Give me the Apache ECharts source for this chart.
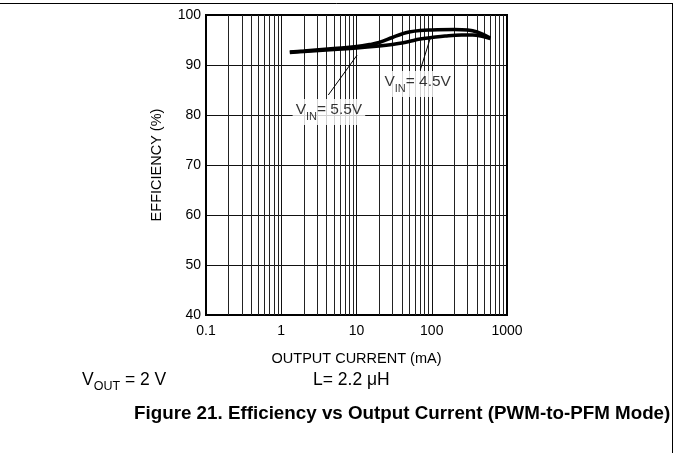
<!DOCTYPE html>
<html>
<head>
<meta charset="utf-8">
<script src="https://cdn.jsdelivr.net/npm/echarts@6/dist/echarts.min.js"></script>
<style>
html,body{margin:0;padding:0;background:#fff;}
#c{width:677px;height:453px;}
</style>
</head>
<body>
<div id="c"></div>
<script>
// ---- data ----
const current55 = [1.3, 2, 5, 10, 15, 20, 30, 40, 50, 70, 100, 200, 300, 400, 600];
const eff55     = [92.6, 92.8, 93.3, 93.7, 94.1, 94.5, 95.5, 96.2, 96.6, 96.9, 97.0, 97.1, 97.0, 96.6, 95.4];
const current45 = [1.3, 2, 5, 10, 20, 30, 40, 50, 70, 100, 150, 250, 350, 450, 600];
const eff45     = [92.5, 92.7, 93.1, 93.4, 93.8, 94.1, 94.4, 94.7, 95.2, 95.5, 95.8, 96.0, 96.0, 95.8, 95.3];
const xDecades = [0.1, 1, 10, 100, 1000];
const yTicks = [40, 50, 60, 70, 80, 90, 100];
const label55Pos = [4.3, 80.6];
const label45Pos = [65, 86.2];
const leader55 = [[4.22, 84], [10.2, 92]];
const leader45 = [[70.4, 89], [95.7, 95.4]];

// minor grid positions 2..9 within each decade
const minorLines = [];
for (let d = 0; d < xDecades.length - 1; d++) {
  for (let m = 2; m <= 9; m++) minorLines.push(+(xDecades[d] * m).toPrecision(3));
}

const zip = (xs, ys) => xs.map((x, i) => [x, ys[i]]);
const FONT = 'Liberation Sans, Arial, sans-serif';

const chart = echarts.init(document.getElementById('c'), null, {renderer: 'canvas'});
chart.setOption({
  backgroundColor: '#fff',
  animation: false,
  grid: {left: 206, top: 15, width: 301, height: 300, show: true, borderColor: '#000', borderWidth: 2, backgroundColor: 'transparent', z: 5},
  xAxis: {
    type: 'log', logBase: 10, min: xDecades[0], max: xDecades[xDecades.length - 1],
    name: 'OUTPUT CURRENT (mA)', nameLocation: 'middle', nameGap: 36,
    nameTextStyle: {fontFamily: FONT, fontSize: 14.5, color: '#000'},
    axisLine: {show: true, lineStyle: {color: '#000', width: 2}},
    axisTick: {show: false},
    axisLabel: {fontFamily: FONT, fontSize: 14, color: '#000', margin: 9,
      formatter: v => String(+v.toPrecision(3))},
    splitLine: {show: true, lineStyle: {color: '#111', width: 1}}
  },
  yAxis: {
    type: 'value', min: yTicks[0], max: yTicks[yTicks.length - 1], interval: 10,
    name: 'EFFICIENCY (%)', nameLocation: 'middle', nameGap: 42, nameRotate: 90,
    nameTextStyle: {fontFamily: FONT, fontSize: 14.5, color: '#000'},
    axisLine: {show: true, lineStyle: {color: '#000', width: 2}},
    axisTick: {show: false},
    axisLabel: {fontFamily: FONT, fontSize: 14, color: '#000', margin: 5},
    splitLine: {show: true, lineStyle: {color: '#111', width: 1}}
  },
  series: [
    {
      type: 'line', data: [], silent: true,
      markLine: {
        silent: true, symbol: 'none', label: {show: false},
        lineStyle: {color: '#222', width: 1, type: 'solid'},
        data: minorLines.map(v => ({xAxis: v}))
      },
      z: 1
    },
    {
      name: 'VIN=5.5V', type: 'line', data: zip(current55, eff55), smooth: 0.4,
      symbol: 'none', lineStyle: {color: '#000', width: 3.5}, z: 10
    },
    {
      name: 'VIN=4.5V', type: 'line', data: zip(current45, eff45), smooth: 0.4,
      symbol: 'none', lineStyle: {color: '#000', width: 3.5}, z: 10
    },
    {
      type: 'line', data: leader55, symbol: 'none', lineStyle: {color: '#000', width: 1}, z: 9
    },
    {
      type: 'line', data: leader45, symbol: 'none', lineStyle: {color: '#000', width: 1}, z: 9
    },
    {
      type: 'scatter', symbolSize: 0, z: 20,
      data: [
        {value: label55Pos, t: '5.5V'},
        {value: label45Pos, t: '4.5V'}
      ],
      label: {
        show: true, position: 'inside', backgroundColor: '#fff', padding: [3, 3, 3, 3],
        formatter: p => '{v|V}{s|IN}{v|= ' + p.data.t + '}',
        rich: {
          v: {fontFamily: FONT, fontSize: 15.5, color: '#000', lineHeight: 20, verticalAlign: 'top'},
          s: {fontFamily: FONT, fontSize: 11, color: '#000', lineHeight: 20, padding: [9, 0, 0, 0], verticalAlign: 'top'}
        }
      }
    }
  ],
  graphic: [
    {type: 'line', shape: {x1: 0, y1: 3.5, x2: 672.5, y2: 3.5}, style: {stroke: '#000', lineWidth: 1}},
    {type: 'line', shape: {x1: 672.5, y1: 3, x2: 672.5, y2: 453}, style: {stroke: '#000', lineWidth: 1}},
    {type: 'text', left: 82, top: 371, style: {
      text: '{a|V}{b|OUT}{a| = 2 V}', font: '17.5px ' + FONT, fill: '#000',
      rich: {a: {fontFamily: FONT, fontSize: 17.5, lineHeight: 21, verticalAlign: 'top'}, b: {fontFamily: FONT, fontSize: 12.5, lineHeight: 21, padding: [9, 0, 0, 0], verticalAlign: 'top'}}
    }},
    {type: 'text', left: 313, top: 371, style: {text: 'L= 2.2 μH', font: '17.5px ' + FONT, fill: '#000'}},
    {type: 'text', left: 134, top: 404, style: {text: 'Figure 21. Efficiency vs Output Current (PWM-to-PFM Mode)', font: 'bold 18.8px ' + FONT, fill: '#000'}}
  ]
});
</script>
</body>
</html>
